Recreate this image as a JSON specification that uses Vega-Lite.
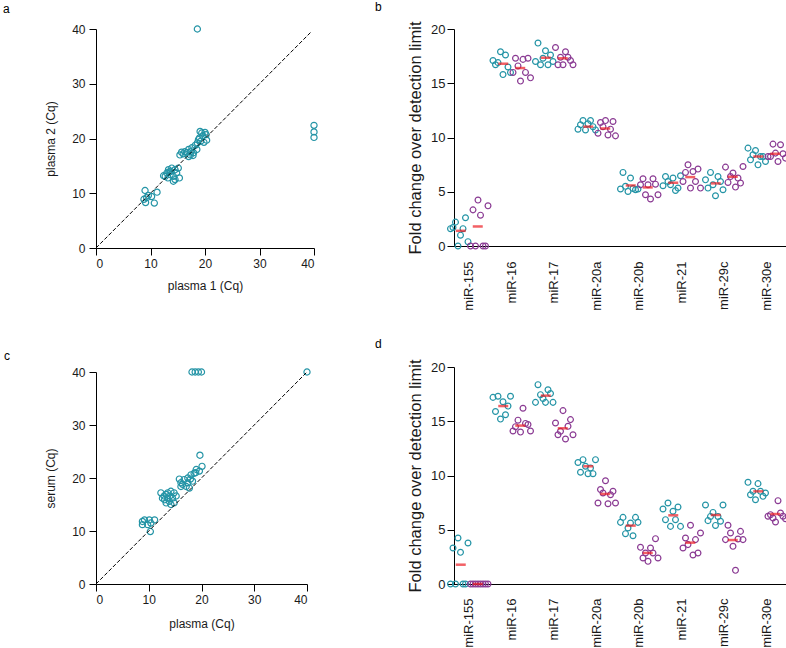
{
"$schema": "https://vega.github.io/schema/vega-lite/v6.json",
"padding": {"left": 3, "top": 0, "right": 0, "bottom": 0},
"datasets": {
"sa": [
{"x":9.0,"y":10.5},{"x":9.6,"y":9.6},{"x":8.8,"y":8.9},{"x":9.1,"y":8.3},{"x":10.7,"y":8.2},{"x":11.2,"y":10.2},{"x":10.2,"y":9.4},{"x":9.3,"y":9.2},
{"x":12.7,"y":13.1},{"x":13.0,"y":13.7},{"x":13.3,"y":14.3},{"x":13.9,"y":14.6},{"x":14.5,"y":14.3},{"x":13.6,"y":13.4},{"x":14.2,"y":13.1},{"x":13.2,"y":12.8},{"x":14.8,"y":13.7},{"x":15.1,"y":14.6},{"x":14.2,"y":12.2},{"x":15.3,"y":12.8},{"x":12.4,"y":13.2},{"x":13.7,"y":14.0},{"x":14.5,"y":12.5},{"x":13.4,"y":13.9},
{"x":15.4,"y":17.0},{"x":15.7,"y":17.5},{"x":16.3,"y":17.6},{"x":17.0,"y":18.0},{"x":17.6,"y":18.3},{"x":18.2,"y":18.75},{"x":17.3,"y":17.0},{"x":17.9,"y":17.4},{"x":17.0,"y":16.7},{"x":16.0,"y":17.2},{"x":17.4,"y":17.6},{"x":18.5,"y":18.0},{"x":16.6,"y":17.4},{"x":17.8,"y":16.9},
{"x":19.1,"y":21.3},{"x":20.0,"y":21.1},{"x":19.6,"y":20.5},{"x":19.0,"y":20.1},{"x":20.3,"y":19.7},{"x":19.8,"y":19.3},{"x":19.2,"y":19.5},{"x":18.6,"y":19.2},{"x":20.2,"y":20.7},{"x":19.4,"y":21.0},{"x":18.8,"y":19.8},
{"x":18.6,"y":40},{"x":40,"y":22.4},{"x":40,"y":21.2},{"x":40,"y":20.2}
],
"sc": [
{"x":18.2,"y":40},{"x":18.8,"y":40},{"x":19.4,"y":40},{"x":20.0,"y":40},{"x":40,"y":40},{"x":19.7,"y":24.3},
{"x":20.1,"y":22.2},{"x":19.0,"y":21.6},{"x":19.6,"y":21.3},{"x":18.6,"y":20.9},{"x":18.0,"y":20.6},{"x":17.4,"y":20.0},{"x":16.7,"y":19.7},{"x":16.1,"y":19.1},{"x":15.8,"y":19.8},{"x":16.4,"y":18.8},{"x":17.4,"y":19.1},{"x":17.7,"y":18.1},{"x":16.1,"y":18.4},{"x":18.3,"y":19.4},{"x":17.1,"y":18.4},{"x":18.9,"y":21.0},{"x":17.9,"y":19.8},
{"x":12.3,"y":17.2},{"x":13.3,"y":16.9},{"x":14.2,"y":17.5},{"x":14.8,"y":17.2},{"x":13.0,"y":15.9},{"x":13.9,"y":15.6},{"x":12.6,"y":16.2},{"x":13.6,"y":16.2},{"x":14.5,"y":16.2},{"x":14.2,"y":15.0},{"x":14.8,"y":15.3},{"x":13.3,"y":15.3},{"x":15.2,"y":16.6},{"x":13.6,"y":17.2},{"x":14.0,"y":16.6},{"x":12.9,"y":16.6},
{"x":8.8,"y":11.8},{"x":9.2,"y":12.1},{"x":8.8,"y":11.2},{"x":10.1,"y":12.1},{"x":11.1,"y":12.1},{"x":10.4,"y":11.5},{"x":10.3,"y":9.9},{"x":9.8,"y":11.2}
],
"da": [{"x":0,"y":0},{"x":39.5,"y":39.5}],
"dc": [{"x":0,"y":0},{"x":40,"y":40}],
"bp": [
{"m":"miR-155","g":"plasma 1","r":1,"v":1.6},{"m":"miR-155","g":"plasma 1","r":2,"v":1.7},{"m":"miR-155","g":"plasma 1","r":3,"v":2.2},{"m":"miR-155","g":"plasma 1","r":4,"v":0},{"m":"miR-155","g":"plasma 1","r":5,"v":1.0},{"m":"miR-155","g":"plasma 1","r":6,"v":1.6},{"m":"miR-155","g":"plasma 1","r":7,"v":2.6},{"m":"miR-155","g":"plasma 1","r":8,"v":0.4},
{"m":"miR-155","g":"plasma 2","r":1,"v":0},{"m":"miR-155","g":"plasma 2","r":2,"v":3.33},{"m":"miR-155","g":"plasma 2","r":3,"v":0},{"m":"miR-155","g":"plasma 2","r":4,"v":4.23},{"m":"miR-155","g":"plasma 2","r":5,"v":2.84},{"m":"miR-155","g":"plasma 2","r":6,"v":0},{"m":"miR-155","g":"plasma 2","r":7,"v":0},{"m":"miR-155","g":"plasma 2","r":8,"v":3.7},
{"m":"miR-16","g":"plasma 1","r":1,"v":17.1},{"m":"miR-16","g":"plasma 1","r":2,"v":16.7},{"m":"miR-16","g":"plasma 1","r":3,"v":16.9},{"m":"miR-16","g":"plasma 1","r":4,"v":17.9},{"m":"miR-16","g":"plasma 1","r":5,"v":15.8},{"m":"miR-16","g":"plasma 1","r":6,"v":17.6},{"m":"miR-16","g":"plasma 1","r":7,"v":16.5},{"m":"miR-16","g":"plasma 1","r":8,"v":16.0},
{"m":"miR-16","g":"plasma 2","r":1,"v":16.0},{"m":"miR-16","g":"plasma 2","r":2,"v":17.3},{"m":"miR-16","g":"plasma 2","r":3,"v":16.6},{"m":"miR-16","g":"plasma 2","r":4,"v":15.2},{"m":"miR-16","g":"plasma 2","r":5,"v":17.2},{"m":"miR-16","g":"plasma 2","r":6,"v":16.0},{"m":"miR-16","g":"plasma 2","r":7,"v":17.3},{"m":"miR-16","g":"plasma 2","r":8,"v":15.5},
{"m":"miR-17","g":"plasma 1","r":1,"v":17.0},{"m":"miR-17","g":"plasma 1","r":2,"v":18.7},{"m":"miR-17","g":"plasma 1","r":3,"v":16.7},{"m":"miR-17","g":"plasma 1","r":4,"v":17.3},{"m":"miR-17","g":"plasma 1","r":5,"v":18.0},{"m":"miR-17","g":"plasma 1","r":6,"v":16.7},{"m":"miR-17","g":"plasma 1","r":7,"v":17.6},{"m":"miR-17","g":"plasma 1","r":8,"v":17.0},
{"m":"miR-17","g":"plasma 2","r":1,"v":18.3},{"m":"miR-17","g":"plasma 2","r":2,"v":16.7},{"m":"miR-17","g":"plasma 2","r":3,"v":17.4},{"m":"miR-17","g":"plasma 2","r":4,"v":16.7},{"m":"miR-17","g":"plasma 2","r":5,"v":17.9},{"m":"miR-17","g":"plasma 2","r":6,"v":17.4},{"m":"miR-17","g":"plasma 2","r":7,"v":17.1},{"m":"miR-17","g":"plasma 2","r":8,"v":16.7},
{"m":"miR-20a","g":"plasma 1","r":1,"v":10.77},{"m":"miR-20a","g":"plasma 1","r":2,"v":11.17},{"m":"miR-20a","g":"plasma 1","r":3,"v":11.56},{"m":"miR-20a","g":"plasma 1","r":4,"v":10.7},{"m":"miR-20a","g":"plasma 1","r":5,"v":11.26},{"m":"miR-20a","g":"plasma 1","r":6,"v":11.56},{"m":"miR-20a","g":"plasma 1","r":7,"v":11.0},{"m":"miR-20a","g":"plasma 1","r":8,"v":10.7},
{"m":"miR-20a","g":"plasma 2","r":1,"v":10.4},{"m":"miR-20a","g":"plasma 2","r":2,"v":11.38},{"m":"miR-20a","g":"plasma 2","r":3,"v":11.0},{"m":"miR-20a","g":"plasma 2","r":4,"v":11.56},{"m":"miR-20a","g":"plasma 2","r":5,"v":10.24},{"m":"miR-20a","g":"plasma 2","r":6,"v":10.77},{"m":"miR-20a","g":"plasma 2","r":7,"v":11.47},{"m":"miR-20a","g":"plasma 2","r":8,"v":10.15},
{"m":"miR-20b","g":"plasma 1","r":1,"v":5.25},{"m":"miR-20b","g":"plasma 1","r":2,"v":6.78},{"m":"miR-20b","g":"plasma 1","r":3,"v":5.5},{"m":"miR-20b","g":"plasma 1","r":4,"v":5.03},{"m":"miR-20b","g":"plasma 1","r":5,"v":6.26},{"m":"miR-20b","g":"plasma 1","r":6,"v":5.3},{"m":"miR-20b","g":"plasma 1","r":7,"v":5.18},{"m":"miR-20b","g":"plasma 1","r":8,"v":5.25},
{"m":"miR-20b","g":"plasma 2","r":1,"v":5.64},{"m":"miR-20b","g":"plasma 2","r":2,"v":6.2},{"m":"miR-20b","g":"plasma 2","r":3,"v":4.72},{"m":"miR-20b","g":"plasma 2","r":4,"v":5.64},{"m":"miR-20b","g":"plasma 2","r":5,"v":4.33},{"m":"miR-20b","g":"plasma 2","r":6,"v":6.2},{"m":"miR-20b","g":"plasma 2","r":7,"v":5.7},{"m":"miR-20b","g":"plasma 2","r":8,"v":4.72},
{"m":"miR-21","g":"plasma 1","r":1,"v":5.55},{"m":"miR-21","g":"plasma 1","r":2,"v":6.4},{"m":"miR-21","g":"plasma 1","r":3,"v":5.95},{"m":"miR-21","g":"plasma 1","r":4,"v":5.64},{"m":"miR-21","g":"plasma 1","r":5,"v":6.26},{"m":"miR-21","g":"plasma 1","r":6,"v":5.12},{"m":"miR-21","g":"plasma 1","r":7,"v":5.34},{"m":"miR-21","g":"plasma 1","r":8,"v":6.47},
{"m":"miR-21","g":"plasma 2","r":1,"v":5.95},{"m":"miR-21","g":"plasma 2","r":2,"v":6.78},{"m":"miR-21","g":"plasma 2","r":3,"v":7.48},{"m":"miR-21","g":"plasma 2","r":4,"v":5.34},{"m":"miR-21","g":"plasma 2","r":5,"v":6.87},{"m":"miR-21","g":"plasma 2","r":6,"v":5.95},{"m":"miR-21","g":"plasma 2","r":7,"v":7.09},{"m":"miR-21","g":"plasma 2","r":8,"v":5.34},
{"m":"miR-29c","g":"plasma 1","r":1,"v":6.1},{"m":"miR-29c","g":"plasma 1","r":2,"v":5.34},{"m":"miR-29c","g":"plasma 1","r":3,"v":6.78},{"m":"miR-29c","g":"plasma 1","r":4,"v":5.64},{"m":"miR-29c","g":"plasma 1","r":5,"v":4.63},{"m":"miR-29c","g":"plasma 1","r":6,"v":6.4},{"m":"miR-29c","g":"plasma 1","r":7,"v":5.95},{"m":"miR-29c","g":"plasma 1","r":8,"v":5.18},
{"m":"miR-29c","g":"plasma 2","r":1,"v":7.27},{"m":"miR-29c","g":"plasma 2","r":2,"v":5.86},{"m":"miR-29c","g":"plasma 2","r":3,"v":6.4},{"m":"miR-29c","g":"plasma 2","r":4,"v":6.72},{"m":"miR-29c","g":"plasma 2","r":5,"v":5.43},{"m":"miR-29c","g":"plasma 2","r":6,"v":6.26},{"m":"miR-29c","g":"plasma 2","r":7,"v":5.8},{"m":"miR-29c","g":"plasma 2","r":8,"v":7.33},
{"m":"miR-30e","g":"plasma 1","r":1,"v":9.02},{"m":"miR-30e","g":"plasma 1","r":2,"v":7.94},{"m":"miR-30e","g":"plasma 1","r":3,"v":8.4},{"m":"miR-30e","g":"plasma 1","r":4,"v":8.8},{"m":"miR-30e","g":"plasma 1","r":5,"v":7.48},{"m":"miR-30e","g":"plasma 1","r":6,"v":8.25},{"m":"miR-30e","g":"plasma 1","r":7,"v":8.25},{"m":"miR-30e","g":"plasma 1","r":8,"v":7.79},
{"m":"miR-30e","g":"plasma 2","r":1,"v":8.25},{"m":"miR-30e","g":"plasma 2","r":2,"v":8.25},{"m":"miR-30e","g":"plasma 2","r":3,"v":9.39},{"m":"miR-30e","g":"plasma 2","r":4,"v":8.56},{"m":"miR-30e","g":"plasma 2","r":5,"v":7.79},{"m":"miR-30e","g":"plasma 2","r":6,"v":9.33},{"m":"miR-30e","g":"plasma 2","r":7,"v":8.5},{"m":"miR-30e","g":"plasma 2","r":8,"v":8.1}
],
"bm": [
{"m":"miR-155","g":"plasma 1","v":1.4},{"m":"miR-155","g":"plasma 2","v":1.8},
{"m":"miR-16","g":"plasma 1","v":16.8},{"m":"miR-16","g":"plasma 2","v":16.4},
{"m":"miR-17","g":"plasma 1","v":17.35},{"m":"miR-17","g":"plasma 2","v":17.3},
{"m":"miR-20a","g":"plasma 1","v":11.0},{"m":"miR-20a","g":"plasma 2","v":10.83},
{"m":"miR-20b","g":"plasma 1","v":5.58},{"m":"miR-20b","g":"plasma 2","v":5.4},
{"m":"miR-21","g":"plasma 1","v":5.83},{"m":"miR-21","g":"plasma 2","v":6.35},
{"m":"miR-29c","g":"plasma 1","v":5.77},{"m":"miR-29c","g":"plasma 2","v":6.38},
{"m":"miR-30e","g":"plasma 1","v":8.25},{"m":"miR-30e","g":"plasma 2","v":8.5}
],
"dp": [
{"m":"miR-155","g":"plasma","r":1,"v":0},{"m":"miR-155","g":"plasma","r":2,"v":3.32},{"m":"miR-155","g":"plasma","r":3,"v":0},{"m":"miR-155","g":"plasma","r":4,"v":4.24},{"m":"miR-155","g":"plasma","r":5,"v":2.92},{"m":"miR-155","g":"plasma","r":6,"v":0},{"m":"miR-155","g":"plasma","r":7,"v":0},{"m":"miR-155","g":"plasma","r":8,"v":3.78},
{"m":"miR-155","g":"serum","r":1,"v":0},{"m":"miR-155","g":"serum","r":2,"v":0},{"m":"miR-155","g":"serum","r":3,"v":0},{"m":"miR-155","g":"serum","r":4,"v":0},{"m":"miR-155","g":"serum","r":5,"v":0},{"m":"miR-155","g":"serum","r":6,"v":0},{"m":"miR-155","g":"serum","r":7,"v":0},{"m":"miR-155","g":"serum","r":8,"v":0},
{"m":"miR-16","g":"plasma","r":1,"v":17.2},{"m":"miR-16","g":"plasma","r":2,"v":15.9},{"m":"miR-16","g":"plasma","r":3,"v":17.3},{"m":"miR-16","g":"plasma","r":4,"v":15.2},{"m":"miR-16","g":"plasma","r":5,"v":16.8},{"m":"miR-16","g":"plasma","r":6,"v":15.6},{"m":"miR-16","g":"plasma","r":7,"v":16.4},{"m":"miR-16","g":"plasma","r":8,"v":17.3},
{"m":"miR-16","g":"serum","r":1,"v":14.1},{"m":"miR-16","g":"serum","r":2,"v":14.5},{"m":"miR-16","g":"serum","r":3,"v":15.1},{"m":"miR-16","g":"serum","r":4,"v":14.0},{"m":"miR-16","g":"serum","r":5,"v":16.2},{"m":"miR-16","g":"serum","r":6,"v":14.8},{"m":"miR-16","g":"serum","r":7,"v":14.7},{"m":"miR-16","g":"serum","r":8,"v":14.1},
{"m":"miR-17","g":"plasma","r":1,"v":16.74},{"m":"miR-17","g":"plasma","r":2,"v":18.37},{"m":"miR-17","g":"plasma","r":3,"v":17.45},{"m":"miR-17","g":"plasma","r":4,"v":17.1},{"m":"miR-17","g":"plasma","r":5,"v":16.74},{"m":"miR-17","g":"plasma","r":6,"v":17.9},{"m":"miR-17","g":"plasma","r":7,"v":17.55},{"m":"miR-17","g":"plasma","r":8,"v":16.74},
{"m":"miR-17","g":"serum","r":1,"v":14.84},{"m":"miR-17","g":"serum","r":2,"v":13.76},{"m":"miR-17","g":"serum","r":3,"v":14.07},{"m":"miR-17","g":"serum","r":4,"v":15.98},{"m":"miR-17","g":"serum","r":5,"v":13.36},{"m":"miR-17","g":"serum","r":6,"v":14.53},{"m":"miR-17","g":"serum","r":7,"v":15.15},{"m":"miR-17","g":"serum","r":8,"v":13.76},
{"m":"miR-20a","g":"plasma","r":1,"v":11.2},{"m":"miR-20a","g":"plasma","r":2,"v":10.3},{"m":"miR-20a","g":"plasma","r":3,"v":11.46},{"m":"miR-20a","g":"plasma","r":4,"v":10.85},{"m":"miR-20a","g":"plasma","r":5,"v":10.17},{"m":"miR-20a","g":"plasma","r":6,"v":10.7},{"m":"miR-20a","g":"plasma","r":7,"v":10.17},{"m":"miR-20a","g":"plasma","r":8,"v":11.46},
{"m":"miR-20a","g":"serum","r":1,"v":7.47},{"m":"miR-20a","g":"serum","r":2,"v":8.7},{"m":"miR-20a","g":"serum","r":3,"v":8.39},{"m":"miR-20a","g":"serum","r":4,"v":9.52},{"m":"miR-20a","g":"serum","r":5,"v":7.4},{"m":"miR-20a","g":"serum","r":6,"v":8.23},{"m":"miR-20a","g":"serum","r":7,"v":8.54},{"m":"miR-20a","g":"serum","r":8,"v":7.47},
{"m":"miR-20b","g":"plasma","r":1,"v":5.68},{"m":"miR-20b","g":"plasma","r":2,"v":6.14},{"m":"miR-20b","g":"plasma","r":3,"v":4.64},{"m":"miR-20b","g":"plasma","r":4,"v":5.16},{"m":"miR-20b","g":"plasma","r":5,"v":5.62},{"m":"miR-20b","g":"plasma","r":6,"v":4.45},{"m":"miR-20b","g":"plasma","r":7,"v":6.14},{"m":"miR-20b","g":"plasma","r":8,"v":5.68},
{"m":"miR-20b","g":"serum","r":1,"v":3.38},{"m":"miR-20b","g":"serum","r":2,"v":2.4},{"m":"miR-20b","g":"serum","r":3,"v":2.86},{"m":"miR-20b","g":"serum","r":4,"v":2.09},{"m":"miR-20b","g":"serum","r":5,"v":3.32},{"m":"miR-20b","g":"serum","r":6,"v":2.86},{"m":"miR-20b","g":"serum","r":7,"v":4.18},{"m":"miR-20b","g":"serum","r":8,"v":2.4},
{"m":"miR-21","g":"plasma","r":1,"v":6.91},{"m":"miR-21","g":"plasma","r":2,"v":5.93},{"m":"miR-21","g":"plasma","r":3,"v":7.47},{"m":"miR-21","g":"plasma","r":4,"v":5.31},{"m":"miR-21","g":"plasma","r":5,"v":6.7},{"m":"miR-21","g":"plasma","r":6,"v":5.93},{"m":"miR-21","g":"plasma","r":7,"v":7.1},{"m":"miR-21","g":"plasma","r":8,"v":5.31},
{"m":"miR-21","g":"serum","r":1,"v":3.32},{"m":"miR-21","g":"serum","r":2,"v":4.24},{"m":"miR-21","g":"serum","r":3,"v":3.63},{"m":"miR-21","g":"serum","r":4,"v":5.41},{"m":"miR-21","g":"serum","r":5,"v":2.67},{"m":"miR-21","g":"serum","r":6,"v":4.09},{"m":"miR-21","g":"serum","r":7,"v":2.86},{"m":"miR-21","g":"serum","r":8,"v":4.7},
{"m":"miR-29c","g":"plasma","r":1,"v":7.28},{"m":"miR-29c","g":"plasma","r":2,"v":5.84},{"m":"miR-29c","g":"plasma","r":3,"v":6.23},{"m":"miR-29c","g":"plasma","r":4,"v":6.6},{"m":"miR-29c","g":"plasma","r":5,"v":5.4},{"m":"miR-29c","g":"plasma","r":6,"v":6.23},{"m":"miR-29c","g":"plasma","r":7,"v":5.78},{"m":"miR-29c","g":"plasma","r":8,"v":7.28},
{"m":"miR-29c","g":"serum","r":1,"v":4.09},{"m":"miR-29c","g":"serum","r":2,"v":5.41},{"m":"miR-29c","g":"serum","r":3,"v":4.7},{"m":"miR-29c","g":"serum","r":4,"v":3.47},{"m":"miR-29c","g":"serum","r":5,"v":1.26},{"m":"miR-29c","g":"serum","r":6,"v":4.15},{"m":"miR-29c","g":"serum","r":7,"v":4.85},{"m":"miR-29c","g":"serum","r":8,"v":4.09},
{"m":"miR-30e","g":"plasma","r":1,"v":9.37},{"m":"miR-30e","g":"plasma","r":2,"v":8.23},{"m":"miR-30e","g":"plasma","r":3,"v":8.54},{"m":"miR-30e","g":"plasma","r":4,"v":7.77},{"m":"miR-30e","g":"plasma","r":5,"v":9.25},{"m":"miR-30e","g":"plasma","r":6,"v":8.54},{"m":"miR-30e","g":"plasma","r":7,"v":8.08},{"m":"miR-30e","g":"plasma","r":8,"v":8.39},
{"m":"miR-30e","g":"serum","r":1,"v":6.24},{"m":"miR-30e","g":"serum","r":2,"v":6.39},{"m":"miR-30e","g":"serum","r":3,"v":6.08},{"m":"miR-30e","g":"serum","r":4,"v":5.71},{"m":"miR-30e","g":"serum","r":5,"v":7.68},{"m":"miR-30e","g":"serum","r":6,"v":6.54},{"m":"miR-30e","g":"serum","r":7,"v":6.24},{"m":"miR-30e","g":"serum","r":8,"v":6.02}
],
"dm": [
{"m":"miR-155","g":"plasma","v":1.78},{"m":"miR-155","g":"serum","v":0},
{"m":"miR-16","g":"plasma","v":16.4},{"m":"miR-16","g":"serum","v":14.6},
{"m":"miR-17","g":"plasma","v":17.36},{"m":"miR-17","g":"serum","v":14.35},
{"m":"miR-20a","g":"plasma","v":10.85},{"m":"miR-20a","g":"serum","v":8.3},
{"m":"miR-20b","g":"plasma","v":5.38},{"m":"miR-20b","g":"serum","v":2.86},
{"m":"miR-21","g":"plasma","v":6.33},{"m":"miR-21","g":"serum","v":3.81},
{"m":"miR-29c","g":"plasma","v":6.36},{"m":"miR-29c","g":"serum","v":4.05},
{"m":"miR-30e","g":"plasma","v":8.54},{"m":"miR-30e","g":"serum","v":6.45}
]
},
"columns": 2,
"spacing": {"row": 119, "column": 134},
"bounds": "flush",
"concat": [
{"width": 218, "height": 219,
 "title": {"text": "a", "dx": -93, "offset": 7.5},
 "layer": [
  {"data": {"name": "sa"}, "mark": {"type": "point", "shape": "circle", "size": 38, "strokeWidth": 1.2, "color": "#2494a6", "opacity": 1},
   "encoding": {
    "x": {"field": "x", "type": "quantitative", "scale": {"domain": [0, 40], "nice": false}, "axis": {"values": [0, 10, 20, 30, 40], "title": "plasma 1 (Cq)", "tickSize": 7, "labelFontSize": 12, "titleFontSize": 12, "labelPadding": 3, "titlePadding": 11}},
    "y": {"field": "y", "type": "quantitative", "scale": {"domain": [0, 40], "nice": false}, "axis": {"values": [0, 10, 20, 30, 40], "title": "plasma 2 (Cq)", "tickSize": 7, "labelFontSize": 12, "titleFontSize": 12, "labelPadding": 4, "titlePadding": 14}}}},
  {"data": {"name": "da"}, "mark": {"type": "line", "color": "#000", "strokeDash": [4, 2], "strokeWidth": 1},
   "encoding": {"x": {"field": "x", "type": "quantitative"}, "y": {"field": "y", "type": "quantitative"}}}
 ]},
{"width": 340, "height": 217,
 "title": {"text": "b", "dx": -73, "offset": 7.5},
 "resolve": {"scale": {"xOffset": "independent"}},
 "layer": [
  {"data": {"name": "bp"}, "transform": [{"calculate": "datum.g + '|' + datum.r", "as": "k"}],
   "mark": {"type": "point", "shape": "circle", "size": 34, "strokeWidth": 1.2, "opacity": 1},
   "encoding": {
    "x": {"field": "m", "type": "nominal", "sort": ["miR-155","miR-16","miR-17","miR-20a","miR-20b","miR-21","miR-29c","miR-30e"], "scale": {"paddingInner": 0, "paddingOuter": 0}, "axis": {"title": null, "labelAngle": -90, "ticks": false, "labelPadding": 15, "labelFontSize": 13}},
    "xOffset": {"field": "k", "type": "nominal", "scale": {"paddingInner": 0, "paddingOuter": 2}},
    "y": {"field": "v", "type": "quantitative", "scale": {"domain": [0, 20], "nice": false}, "axis": {"values": [0, 5, 10, 15, 20], "title": "Fold change over detection limit", "titleFontSize": 16.5, "labelFontSize": 13, "tickSize": 7, "labelPadding": 2, "titlePadding": 7, "offset": -6}},
    "color": {"field": "g", "type": "nominal", "scale": {"domain": ["plasma 1","plasma 2","plasma","serum"], "range": ["#2494a6","#8a3a93","#2494a6","#8a3a93"]}, "legend": null}}},
  {"data": {"name": "bm"},
   "mark": {"type": "tick", "orient": "horizontal", "size": 10, "thickness": 2.5, "color": "#ed1c24"},
   "encoding": {
    "x": {"field": "m", "type": "nominal", "sort": ["miR-155","miR-16","miR-17","miR-20a","miR-20b","miR-21","miR-29c","miR-30e"]},
    "xOffset": {"field": "g", "type": "nominal", "scale": {"paddingInner": 0, "paddingOuter": 0.25}},
    "y": {"field": "v", "type": "quantitative"}}}
 ]},
{"width": 211, "height": 217,
 "title": {"text": "c", "dx": -92, "offset": 3},
 "layer": [
  {"data": {"name": "sc"}, "mark": {"type": "point", "shape": "circle", "size": 38, "strokeWidth": 1.2, "color": "#2494a6", "opacity": 1},
   "encoding": {
    "x": {"field": "x", "type": "quantitative", "scale": {"domain": [0, 40], "nice": false}, "axis": {"values": [0, 10, 20, 30, 40], "title": "plasma (Cq)", "tickSize": 7, "labelFontSize": 12, "titleFontSize": 12, "labelPadding": 3, "titlePadding": 13}},
    "y": {"field": "y", "type": "quantitative", "scale": {"domain": [0, 40], "nice": false, "range": [217, 5]}, "axis": {"values": [0, 10, 20, 30, 40], "title": "serum (Cq)", "tickSize": 7, "labelFontSize": 12, "titleFontSize": 12, "labelPadding": 4, "titlePadding": 14}}}},
  {"data": {"name": "dc"}, "mark": {"type": "line", "color": "#000", "strokeDash": [4, 2], "strokeWidth": 1},
   "encoding": {"x": {"field": "x", "type": "quantitative"}, "y": {"field": "y", "type": "quantitative"}}}
 ]},
{"width": 340, "height": 217,
 "title": {"text": "d", "dx": -73, "offset": 8.5},
 "resolve": {"scale": {"xOffset": "independent"}},
 "layer": [
  {"data": {"name": "dp"}, "transform": [{"calculate": "datum.g + '|' + datum.r", "as": "k"}],
   "mark": {"type": "point", "shape": "circle", "size": 34, "strokeWidth": 1.2, "opacity": 1},
   "encoding": {
    "x": {"field": "m", "type": "nominal", "sort": ["miR-155","miR-16","miR-17","miR-20a","miR-20b","miR-21","miR-29c","miR-30e"], "scale": {"paddingInner": 0, "paddingOuter": 0}, "axis": {"title": null, "labelAngle": -90, "ticks": false, "labelPadding": 14, "labelFontSize": 13}},
    "xOffset": {"field": "k", "type": "nominal", "scale": {"paddingInner": 0, "paddingOuter": 2}},
    "y": {"field": "v", "type": "quantitative", "scale": {"domain": [0, 20], "nice": false}, "axis": {"values": [0, 5, 10, 15, 20], "title": "Fold change over detection limit", "titleFontSize": 16.5, "labelFontSize": 13, "tickSize": 7, "labelPadding": 2, "titlePadding": 7, "offset": -6}},
    "color": {"field": "g", "type": "nominal", "scale": {"domain": ["plasma 1","plasma 2","plasma","serum"], "range": ["#2494a6","#8a3a93","#2494a6","#8a3a93"]}, "legend": null}}},
  {"data": {"name": "dm"},
   "mark": {"type": "tick", "orient": "horizontal", "size": 10, "thickness": 2.5, "color": "#ed1c24"},
   "encoding": {
    "x": {"field": "m", "type": "nominal", "sort": ["miR-155","miR-16","miR-17","miR-20a","miR-20b","miR-21","miR-29c","miR-30e"]},
    "xOffset": {"field": "g", "type": "nominal", "scale": {"paddingInner": 0, "paddingOuter": 0.25}},
    "y": {"field": "v", "type": "quantitative"}}}
 ]}
],
"config": {
 "view": {"stroke": null},
 "font": "Liberation Sans",
 "axis": {"grid": false, "domainColor": "#000", "tickColor": "#000", "labelColor": "#1a1a1a", "titleColor": "#1a1a1a", "titleFontWeight": "normal", "domainWidth": 1, "tickWidth": 1},
 "title": {"fontWeight": "normal", "fontSize": 12, "anchor": "start", "color": "#000", "frame": "group"}
}
}
